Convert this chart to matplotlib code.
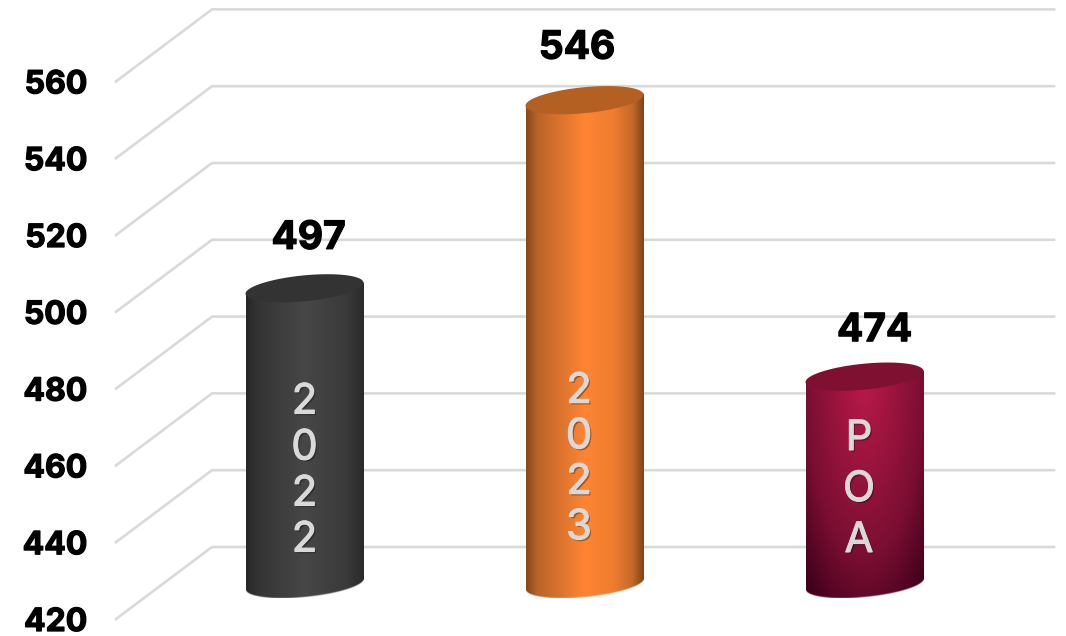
import numpy as np
import matplotlib
matplotlib.use('Agg')
import matplotlib.pyplot as plt
import matplotlib.patheffects as pe

plt.rcParams['font.family'] = ['Inter', 'DejaVu Sans']

# data
categories = ['2022', '2023', 'POA']
values = [497, 546, 474]
ticks = [420, 440, 460, 480, 500, 520, 540, 560]

W, H = 1066, 636
# pixel layout of the fake 3d scene
x_per_cat = 280.0      # px between bars
x_first = 304.5        # px of first bar
y_per_unit = 3.84      # px per value unit
y_base = 619.0         # px of value 420 on the front edge
half_w = 59.0
tilt = 5.5
ell_b = 13.0
floor_lift = 35.0      # bar base sits part way back on the floor

fig = plt.figure(figsize=(W / 100, H / 100), dpi=100)
ax = fig.add_axes([0, 0, 1, 1])
ax.axis('off')


def dx(px):
    return px / x_per_cat


def dy(px):
    return px / y_per_unit


def hex2rgb(c):
    return np.array(matplotlib.colors.to_rgb(c))


def ramp(t, stops, cols):
    cols = np.array([hex2rgb(c) for c in cols])
    return np.stack([np.interp(t, stops, cols[:, i]) for i in range(3)], axis=-1)


def black_fill(X, V):
    return ramp(X, [-1, -0.8, 0, 0.7, 1], ['#262626', '#343434', '#474747', '#3a3a3a', '#2a2a2a'])


def orange_fill(X, V):
    return ramp(X, [-1, -0.8, -0.45, 0, 0.5, 0.8, 1],
                ['#84481c', '#b9642a', '#d8722c', '#ff8533', '#ee7c30', '#c46a2a', '#7e4418'])


def red_fill(X, V):
    d = np.sqrt(X ** 2 + 1.3 * V ** 2)
    return ramp(d, [0, 1, 1.5], ['#bb1a4a', '#7a0e32', '#40001a'])


fills = [black_fill, orange_fill, red_fill]
top_colors = ['#333333', '#b46022', '#7f1032']

# grid: diagonal on the side wall, then flat on the back wall
x_left = dx(116) - x_first / x_per_cat
x_back = dx(212) - x_first / x_per_cat
x_right = dx(1054) - x_first / x_per_cat
wall = dy(72)
for t in ticks:
    ax.plot([x_left, x_back, x_right], [t, t + wall, t + wall], color='#d9d9d9', lw=1.9,
            solid_joinstyle='miter', zorder=1)

heavy = [pe.withStroke(linewidth=0.9, foreground='black')]
for t in ticks:
    ax.text(dx(87.5) - x_first / x_per_cat, t, str(t), ha='right', va='center_baseline',
            fontsize=23, fontweight='bold', color='black', path_effects=heavy)

# cylinders
for i, v in enumerate(values):
    y0 = 420 + dy(floor_lift)
    y1 = v + dy(floor_lift)
    ext = np.sqrt(ell_b ** 2 + tilt ** 2)
    height_px = (y1 - y0) * y_per_unit
    nx, ny = int(2 * half_w) * 2, int(height_px + 2 * ext) * 2
    X = (np.arange(nx) + 0.5) / nx * 2 - 1
    py = (np.arange(ny) + 0.5) / ny * (height_px + 2 * ext) - ext  # px below top centre
    XX, PY = np.meshgrid(X, py)
    lower = height_px - tilt * XX + ell_b * np.sqrt(1 - XX ** 2)
    upper = -tilt * XX
    alpha = np.clip((lower - PY) + 0.5, 0, 1) * np.clip((PY - upper) + 0.5, 0, 1)
    rgb = fills[i](XX, PY / height_px)
    img = np.dstack([rgb, alpha])
    ax.imshow(img, extent=[i - dx(half_w), i + dx(half_w), y1 + dy(ext) - (height_px + 2 * ext) / y_per_unit,
                           y1 + dy(ext)],
              origin='upper', aspect='auto', interpolation='bilinear', zorder=3)

    th = np.linspace(0, 2 * np.pi, 200)
    ex = i + dx(half_w) * np.cos(th)
    ey = y1 + dy(tilt) * np.cos(th) + dy(ell_b) * np.sin(th)
    ax.fill(ex, ey, color=top_colors[i], lw=0, zorder=4)

# imshow and plot move the limits, so set them last
ax.set_xlim(-x_first / x_per_cat, (W - x_first) / x_per_cat)
ax.set_ylim(420 - (H - y_base) / y_per_unit, 420 + y_base / y_per_unit)

# value labels, nudged by hand to sit where the original has them
label_nudge = [(4, 54), (-7.5, 56), (10, 50)]
for i, v in enumerate(values):
    ax.text(i + dx(label_nudge[i][0]), v + dy(floor_lift + label_nudge[i][1]), str(v),
            ha='center', va='center_baseline', fontsize=28, fontweight='bold', color='black', zorder=6,
            path_effects=heavy)

# category names written down the bars
name_nudge = [0, -5.5, -5.5]
name_mid = [467.5, 456, 486]
name_step = [46, 45.5, 51]
shadow = [pe.withSimplePatchShadow(offset=(1.2, -1.2), shadow_rgbFace='#000000', alpha=0.35),
          pe.withStroke(linewidth=0.8, foreground='#d9d9d9')]
for i, name in enumerate(categories):
    first = name_mid[i] - name_step[i] * (len(name) - 1) / 2
    for j, ch in enumerate(name):
        py = first + j * name_step[i]
        ax.text(i + dx(name_nudge[i]), 420 + (y_base - py) / y_per_unit, ch,
                ha='center', va='center_baseline', fontsize=30, color='#d9d9d9', zorder=6,
                path_effects=shadow)

fig.savefig('out.png', dpi=100, facecolor='white')
